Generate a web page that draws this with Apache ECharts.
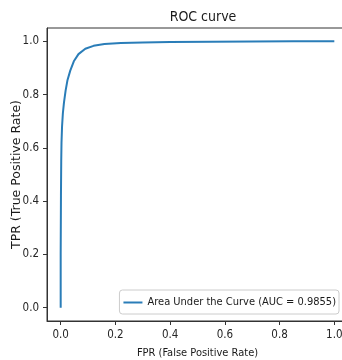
<!DOCTYPE html>
<html>
<head>
<meta charset="utf-8">
<script src="https://cdn.jsdelivr.net/npm/echarts@6/dist/echarts.min.js"></script>
<style>
html,body{margin:0;padding:0;background:#fff;}
#chart{width:342px;height:360px;}
</style>
</head>
<body>
<div id="chart"></div>
<script>
// Data
var fpr = [0, 0, 0.001, 0.002, 0.003, 0.005, 0.008, 0.012, 0.018, 0.025, 0.035, 0.048, 0.065, 0.09, 0.12, 0.16, 0.22, 0.3, 0.4, 0.55, 0.7, 0.85, 1.0];
var tpr = [0, 0.2, 0.42, 0.55, 0.62, 0.68, 0.73, 0.77, 0.815, 0.855, 0.89, 0.925, 0.952, 0.972, 0.983, 0.99, 0.994, 0.996, 0.997, 0.998, 0.999, 1.0, 1.0];
var xTicks = [0, 0.2, 0.4, 0.6, 0.8, 1.0];
var yTicks = [0, 0.2, 0.4, 0.6, 0.8, 1.0];
var seriesName = 'Area Under the Curve (AUC = 0.9855)';
var titleText = 'ROC curve';
var xName = 'FPR (False Positive Rate)';
var yName = 'TPR (True Positive Rate)';

var narrow = '"DejaVu Sans Condensed", "Liberation Sans Narrow", "Liberation Sans", sans-serif';
var pts = fpr.map(function (v, i) { return [v, tpr[i]]; });

var chart = echarts.init(document.getElementById('chart'), null, {renderer: 'canvas'});
chart.setOption({
  animation: false,
  backgroundColor: '#ffffff',
  title: {
    text: titleText,
    left: 198,
    textAlign: 'center',
    top: 5,
    textStyle: {fontFamily: narrow, fontSize: 14, fontWeight: 'normal', color: '#1a1a1a'}
  },
  grid: {
    left: 47, right: -6, top: 28, bottom: 39,
    outerBoundsMode: 'none',
    containLabel: false,
    show: true, borderColor: '#333333', borderWidth: 1, backgroundColor: 'transparent'
  },
  legend: {
    right: 3, bottom: 46,
    orient: 'horizontal',
    padding: [7, 3, 6, 4],
    backgroundColor: '#ffffff',
    borderColor: '#cccccc', borderWidth: 1, borderRadius: 3,
    itemWidth: 19, itemHeight: 2, itemGap: 5,
    textStyle: {fontFamily: narrow, fontSize: 11, color: '#1a1a1a'},
    data: [{name: seriesName, icon: 'rect'}]
  },
  xAxis: {
    type: 'value', min: -0.05, max: 1.05,
    name: xName, nameLocation: 'middle', nameGap: 27,
    nameTextStyle: {fontFamily: narrow, fontSize: 11, color: '#1a1a1a'},
    axisLine: {show: true, onZero: false, lineStyle: {color: '#333333', width: 1}},
    axisTick: {show: true, inside: false, length: 4, customValues: xTicks, lineStyle: {color: '#333333'}},
    axisLabel: {show: true, margin: 8, customValues: xTicks, fontFamily: narrow, fontSize: 11.5, color: '#262626',
      formatter: function (v) { return v.toFixed(1); }},
    splitLine: {show: false}
  },
  yAxis: {
    type: 'value', min: -0.05, max: 1.05,
    name: yName, nameLocation: 'middle', nameGap: 24, nameRotate: 90,
    nameMoveOverlap: false,
    nameTextStyle: {fontFamily: '"DejaVu Sans", sans-serif', fontSize: 12.5, color: '#1a1a1a'},
    axisLine: {show: true, onZero: false, lineStyle: {color: '#333333', width: 1}},
    axisTick: {show: true, inside: false, length: 4, customValues: yTicks, lineStyle: {color: '#333333'}},
    axisLabel: {show: true, margin: 8, customValues: yTicks, fontFamily: narrow, fontSize: 11.5, color: '#262626',
      formatter: function (v) { return v.toFixed(1); }},
    splitLine: {show: false}
  },
  series: [{
    name: seriesName,
    type: 'line',
    data: pts,
    symbol: 'none',
    showSymbol: false,
    smooth: false,
    lineStyle: {color: '#2a7db8', width: 2},
    itemStyle: {color: '#2a7db8'}
  }]
});
</script>
</body>
</html>
